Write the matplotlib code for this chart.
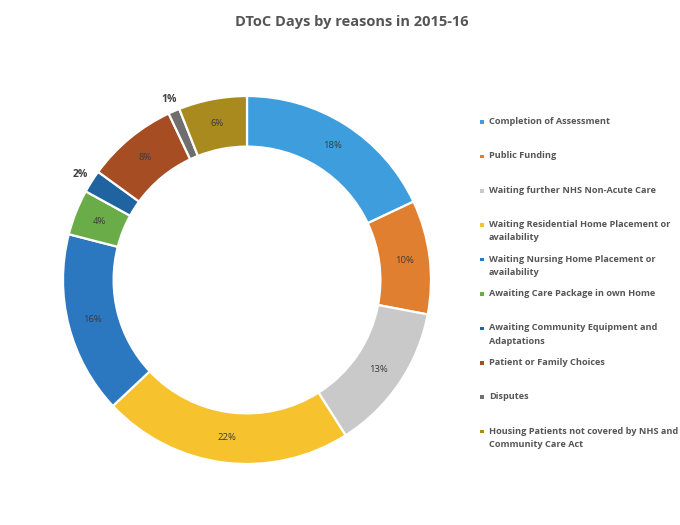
import numpy as np
import matplotlib
matplotlib.use("Agg")
import matplotlib.pyplot as plt

plt.rcParams['font.family'] = ['Open Sans', 'DejaVu Sans']

reasons = [
    "Completion of Assessment",
    "Public Funding",
    "Waiting further NHS Non-Acute Care",
    "Waiting Residential Home Placement or\navailability",
    "Waiting Nursing Home Placement or\navailability",
    "Awaiting Care Package in own Home",
    "Awaiting Community Equipment and\nAdaptations",
    "Patient or Family Choices",
    "Disputes",
    "Housing Patients not covered by NHS and\nCommunity Care Act",
]
shares = [18, 10, 13, 22, 16, 4, 2, 8, 1, 6]
colours = ["#3e9ddd", "#e07f2f", "#c9c9c9", "#f6c22d", "#2b77c0",
           "#6aad48", "#1f63a0", "#a64d24", "#6f6f6f", "#a88a1e"]

fig = plt.figure(figsize=(6.8, 5.25), dpi=100)

# donut
ax = fig.add_axes([63 / 680, 61 / 525, 368 / 680, 368 / 525])
wedges, _ = ax.pie(shares, colors=colours, startangle=90, counterclock=False,
                   radius=1.0,
                   wedgeprops=dict(width=0.275, edgecolor="white", linewidth=1.6))
ax.set_xlim(-1, 1)
ax.set_ylim(-1, 1)
ax.set_aspect("equal")
ax.axis("off")

for w, v in zip(wedges, shares):
    mid = np.deg2rad((w.theta1 + w.theta2) / 2)
    if v >= 4:
        r = 0.865
        ax.text(r * np.cos(mid), r * np.sin(mid), "%d%%" % v, ha="center",
                va="center", fontsize=6.8, color="#3b3b3b")
    else:
        r = 1.07
        ax.text(r * np.cos(mid), r * np.sin(mid), "%d%%" % v, ha="center",
                va="center", fontsize=7.5, color="#404040", fontweight="bold")

fig.text(352 / 680, 1 - 22 / 525, "DToC Days by reasons in 2015-16",
         ha="center", va="center", fontsize=10.5, fontweight="bold",
         color="#555555")

# legend laid out like Excel's evenly spread entries
lax = fig.add_axes([0, 0, 1, 1])
lax.set_xlim(0, 680)
lax.set_ylim(525, 0)
lax.axis("off")
ys = 122 + np.arange(len(reasons)) * 34.4
lax.scatter([482] * len(reasons), ys, marker="s", s=7, c=colours, linewidths=0)
for y, lab in zip(ys, reasons):
    lax.text(489, y - 5, lab, ha="left", va="top", fontsize=6.6,
             fontweight="bold", color="#555555", linespacing=1.6)

fig.savefig("out.png", dpi=100)
